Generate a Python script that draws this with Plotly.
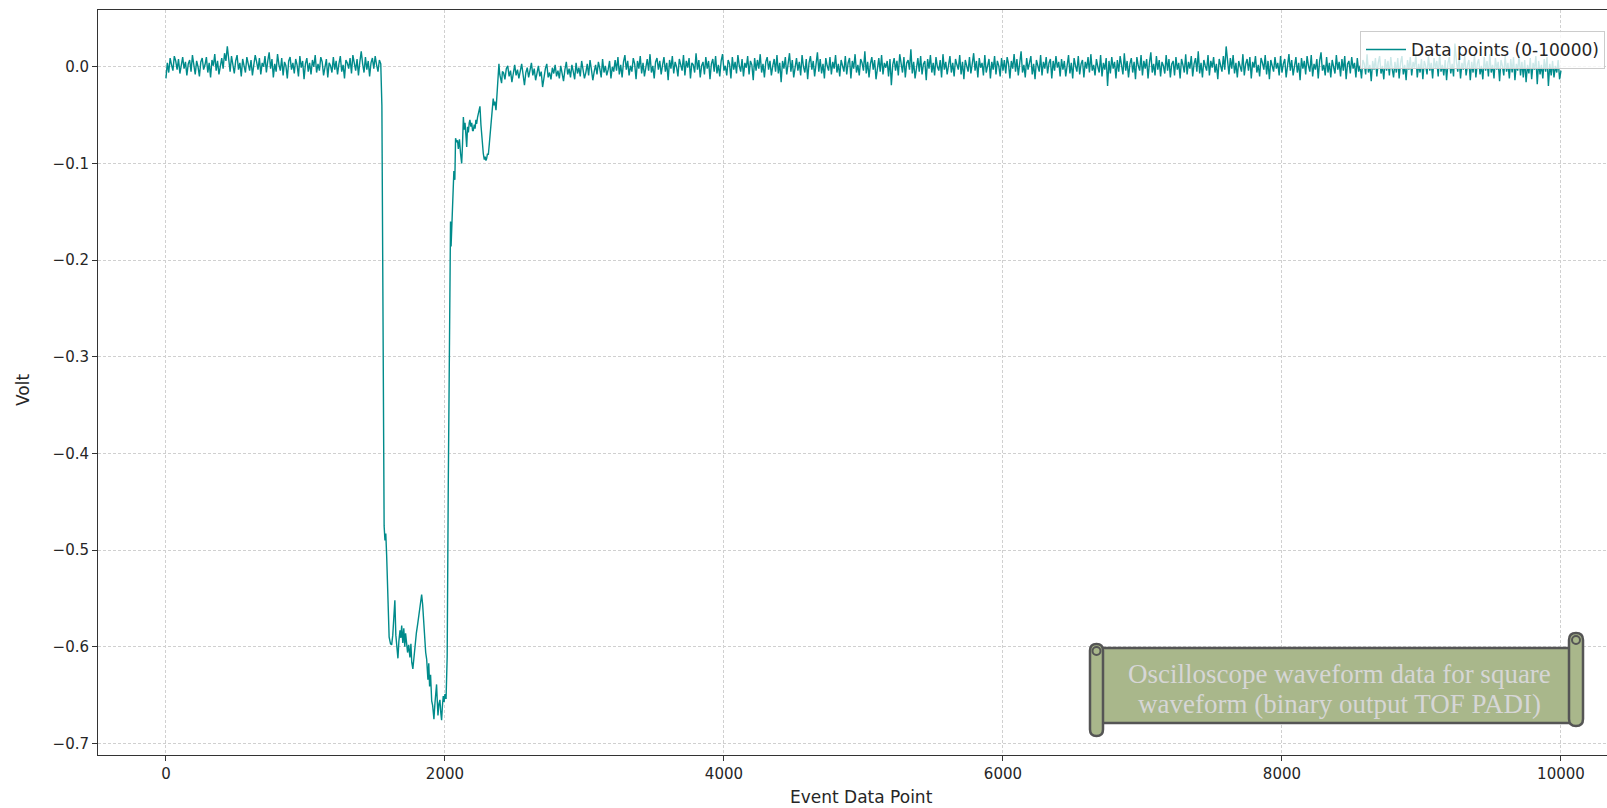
import plotly.graph_objects as go

# ---------------- data (volts) ----------------
# baseline before the pulse, one sample every 10 event points from 0 to 1540
v_pre = [
    -0.012, 0.004, -0.006, 0.009, 0.002, -0.004, 0.011, 0.006, -0.003, 0.008,
    -0.007, 0.001, 0.010, -0.002, 0.005, -0.009, 0.003, 0.007, -0.005, 0.012,
    0.004, -0.008, 0.006, 0.000, -0.010, 0.005, 0.009, -0.003, 0.002, 0.010,
    -0.006, 0.004, -0.011, 0.007, 0.001, 0.013, -0.004, 0.006, -0.008, 0.003,
    0.009, -0.002, 0.014, 0.006, 0.021, 0.008, -0.005, 0.011, 0.002, -0.007,
    0.006, 0.012, -0.003, 0.004, -0.010, 0.008, 0.001, -0.006, 0.010, 0.003,
    -0.004, 0.007, -0.009, 0.002, 0.012, 0.005, -0.003, 0.009, -0.008, 0.004,
    0.000, 0.011, -0.006, 0.006, 0.015, -0.002, 0.008, -0.011, 0.003, -0.005,
    0.013, 0.002, -0.004, 0.009, -0.009, 0.005, 0.001, -0.012, 0.006, 0.010,
    -0.003, 0.004, -0.007, 0.008, 0.002, -0.010, 0.011, -0.001, 0.006, -0.013,
    0.003, 0.009, -0.005, 0.004, -0.008, 0.007, 0.000, 0.012, -0.006, 0.003,
    -0.004, 0.010, 0.005, -0.009, 0.002, 0.008, -0.011, 0.004, 0.001, -0.006,
    0.010, -0.003, 0.006, -0.008, 0.003, 0.011, -0.005, 0.002, -0.012, 0.007,
    0.004, -0.002, 0.009, -0.007, 0.012, 0.001, -0.004, 0.008, -0.009, 0.005,
    0.016, 0.003, -0.006, 0.010, -0.003, 0.006, -0.010, 0.004, 0.009, -0.002,
    0.011, 0.002, -0.005, 0.007, 0.003,
]

# the pulse (event index, volt)
idx_pulse = [
    1548, 1552, 1556, 1560, 1564, 1570, 1576, 1582, 1588, 1594,
    1600, 1610, 1618, 1626, 1634, 1641, 1648, 1656, 1663, 1670,
    1678, 1684, 1690, 1698, 1705, 1712, 1718, 1725, 1732, 1740,
    1749, 1756, 1762, 1770, 1778, 1786, 1795, 1805, 1814, 1822,
    1828, 1833, 1840, 1848, 1855, 1862, 1869, 1874, 1878, 1884,
    1890, 1897, 1905, 1912, 1921, 1928, 1934, 1940, 1945, 1950,
    1957, 1964, 1970, 1976, 1982, 1988, 1994, 2000, 2008, 2016,
    2024, 2032, 2040, 2044, 2048, 2056, 2064, 2071, 2076, 2084,
    2090, 2096, 2104, 2112, 2120, 2126, 2132, 2138, 2144, 2150,
    2156, 2162, 2168, 2174, 2179, 2186, 2192, 2198, 2203, 2210,
    2216, 2222, 2227, 2234, 2240, 2246, 2251, 2258, 2264, 2270,
    2275, 2282, 2288, 2294, 2299, 2305, 2311, 2318, 2324, 2330,
    2335, 2340, 2346, 2352, 2358, 2366, 2370, 2375, 2381, 2387,
    2393, 2400, 2406, 2412,
]
v_pulse = [
    -0.040, -0.200, -0.330, -0.430, -0.475, -0.490, -0.483, -0.505, -0.530, -0.570,
    -0.590, -0.597, -0.598, -0.588, -0.572, -0.552, -0.588, -0.603, -0.612, -0.594,
    -0.583, -0.591, -0.578, -0.596, -0.581, -0.600, -0.586, -0.596, -0.606, -0.598,
    -0.611, -0.597, -0.616, -0.623, -0.609, -0.598, -0.586, -0.576, -0.566, -0.558,
    -0.549, -0.546, -0.556, -0.576, -0.592, -0.606, -0.613, -0.626, -0.634, -0.617,
    -0.641, -0.629, -0.656, -0.661, -0.675, -0.659, -0.644, -0.639, -0.656, -0.671,
    -0.659, -0.655, -0.668, -0.676, -0.661, -0.651, -0.657, -0.649, -0.654, -0.610,
    -0.430, -0.250, -0.160, -0.186, -0.168, -0.148, -0.108, -0.117, -0.074, -0.078,
    -0.076, -0.085, -0.075, -0.090, -0.100, -0.080, -0.052, -0.065, -0.058, -0.070,
    -0.083, -0.062, -0.068, -0.058, -0.055, -0.062, -0.058, -0.066, -0.066, -0.060,
    -0.064, -0.055, -0.059, -0.052, -0.048, -0.044, -0.041, -0.060, -0.075, -0.085,
    -0.090, -0.096, -0.093, -0.097, -0.095, -0.090, -0.091, -0.080, -0.070, -0.060,
    -0.055, -0.042, -0.033, -0.040, -0.036, -0.045, -0.035, -0.024, -0.012, 0.003,
    -0.008, -0.012, -0.017, -0.005,
]

# baseline after the pulse, one sample every 10 event points from 2420 to 10000
v_post = [
    -0.006, -0.013, -0.002, 0.001, -0.010, -0.004, -0.016, -0.007, 0.002, -0.009,
    -0.003, -0.012, -0.005, 0.003, -0.008, -0.019, -0.006, -0.001, -0.011, -0.004,
    0.004, -0.009, -0.002, -0.014, -0.006, 0.001, -0.010, -0.005, -0.021, -0.008,
    -0.002, 0.003, -0.011, -0.006, -0.013, -0.001, -0.007, 0.002, -0.010, -0.004,
    -0.012, 0.001, -0.006, -0.015, -0.003, 0.005, -0.008, -0.002, -0.011, 0.002,
    -0.005, -0.013, 0.004, -0.007, -0.001, -0.010, 0.006, -0.004, -0.012, -0.006,
    0.003, -0.009, 0.007, -0.003, -0.014, -0.005, 0.002, -0.008, 0.005, -0.002,
    -0.011, 0.008, -0.006, 0.001, -0.009, -0.003, 0.006, -0.012, 0.000, -0.005,
    0.007, -0.004, 0.010, -0.008, 0.002, -0.011, 0.005, 0.012, -0.003, 0.006,
    -0.009, 0.001, -0.005, 0.009, 0.003, -0.013, 0.006, -0.002, 0.011, -0.007,
    0.004, -0.010, 0.002, 0.008, -0.004, 0.013, -0.006, 0.001, -0.012, 0.005,
    0.009, -0.003, 0.006, -0.008, 0.002, 0.010, -0.005, 0.004, -0.014, 0.007,
    -0.002, 0.011, -0.007, 0.005, 0.000, -0.010, 0.008, 0.003, -0.004, 0.012,
    -0.009, 0.006, -0.001, 0.009, -0.012, 0.004, 0.002, -0.006, 0.014, -0.003,
    0.007, -0.011, 0.001, 0.005, -0.008, 0.010, -0.002, 0.006, -0.013, 0.003,
    0.008, -0.005, 0.011, -0.007, 0.002, -0.010, 0.006, 0.013, -0.004, 0.001,
    -0.009, 0.007, 0.003, -0.012, 0.010, -0.003, 0.005, -0.007, 0.012, 0.001,
    -0.005, 0.008, -0.010, 0.004, -0.001, 0.011, -0.008, 0.006, 0.002, -0.014,
    0.009, -0.004, 0.007, -0.002, 0.013, -0.006, 0.003, -0.011, 0.005, 0.010,
    -0.003, 0.006, -0.009, 0.001, 0.008, -0.005, 0.012, -0.007, 0.004, -0.016,
    0.006, -0.002, 0.010, -0.008, 0.003, 0.014, -0.005, 0.007, -0.011, 0.002,
    0.009, -0.004, 0.005, -0.009, 0.012, 0.000, -0.006, 0.008, -0.013, 0.004,
    0.011, -0.003, 0.006, -0.010, 0.002, 0.015, -0.005, 0.008, -0.007, 0.003,
    -0.012, 0.009, 0.001, -0.004, 0.010, -0.008, 0.005, -0.002, 0.012, -0.006,
    0.003, -0.010, 0.007, 0.001, -0.005, 0.011, -0.008, 0.004, 0.009, -0.012,
    0.006, -0.002, 0.013, -0.006, 0.002, -0.009, 0.008, 0.004, -0.004, 0.016,
    -0.007, 0.005, -0.011, 0.003, 0.010, -0.003, 0.007, -0.013, 0.001, 0.009,
    -0.005, 0.012, -0.008, 0.004, -0.001, 0.006, -0.010, 0.008, -0.019, 0.002,
    0.009, -0.004, 0.006, -0.009, 0.013, 0.002, -0.006, 0.010, -0.011, 0.004,
    0.007, -0.003, 0.018, -0.007, 0.005, -0.012, 0.001, 0.009, -0.005, 0.011,
    -0.008, 0.003, 0.006, -0.014, 0.008, -0.002, 0.012, -0.006, 0.004, -0.009,
    0.010, 0.000, -0.004, 0.007, -0.011, 0.013, -0.003, 0.005, -0.008, 0.002,
    0.011, -0.006, 0.004, -0.010, 0.008, 0.002, -0.003, 0.012, -0.008, 0.005,
    -0.013, 0.007, 0.001, -0.005, 0.010, -0.007, 0.003, 0.014, -0.004, 0.006,
    -0.011, 0.009, -0.001, 0.004, -0.009, 0.012, -0.006, 0.002, 0.008, -0.012,
    0.005, -0.003, 0.011, -0.008, 0.006, 0.001, -0.010, 0.009, -0.004, 0.007,
    -0.007, 0.010, 0.003, -0.012, 0.006, -0.002, 0.013, -0.005, 0.008, -0.009,
    0.004, 0.016, -0.006, 0.002, -0.011, 0.009, -0.003, 0.006, 0.011, -0.008,
    0.003, -0.013, 0.007, 0.001, -0.005, 0.012, -0.009, 0.005, -0.002, 0.010,
    -0.007, 0.004, 0.008, -0.012, 0.006, -0.004, 0.011, -0.001, 0.005, -0.010,
    0.008, -0.003, 0.006, -0.010, 0.002, 0.012, -0.007, 0.004, -0.012, 0.009,
    0.001, -0.005, 0.011, -0.008, 0.003, 0.007, -0.011, 0.005, -0.002, 0.010,
    -0.006, 0.013, -0.004, 0.002, -0.009, 0.008, 0.000, -0.006, 0.012, -0.010,
    0.004, -0.003, 0.009, -0.020, 0.006, -0.007, 0.010, -0.002, 0.005, -0.012,
    0.007, -0.005, 0.011, 0.002, -0.008, 0.014, -0.004, 0.006, -0.011, 0.003,
    0.009, -0.006, 0.005, -0.013, 0.010, 0.001, -0.004, 0.012, -0.009, 0.006,
    -0.002, 0.008, -0.012, 0.004, 0.015, -0.006, 0.003, -0.009, 0.011, -0.003,
    0.007, -0.010, 0.005, 0.001, -0.007, 0.012, -0.004, 0.008, -0.011, 0.003,
    0.006, -0.009, 0.010, -0.003, 0.004, -0.012, 0.008, 0.002, -0.006, 0.013,
    -0.008, 0.005, -0.002, 0.011, -0.010, 0.003, 0.009, -0.005, 0.016, -0.007,
    0.004, -0.011, 0.007, 0.001, -0.004, 0.012, -0.009, 0.006, -0.001, 0.010,
    -0.006, 0.003, -0.013, 0.008, 0.002, -0.005, 0.011, -0.003, 0.021, 0.006,
    -0.008, 0.009, -0.002, 0.012, -0.007, 0.004, -0.011, 0.006, 0.001, -0.005,
    0.013, -0.009, 0.003, 0.008, -0.004, 0.010, -0.012, 0.005, -0.001, 0.011,
    -0.006, 0.002, -0.010, 0.009, 0.004, -0.003, 0.012, -0.008, 0.006, -0.013,
    0.007, 0.001, -0.005, 0.010, -0.002, 0.004, -0.009, 0.011, -0.006, 0.003,
    0.008, -0.011, 0.005, 0.013, -0.004, 0.007, -0.009, 0.002, 0.010, -0.006,
    0.004, -0.014, 0.009, -0.002, 0.006, -0.008, 0.011, 0.001, -0.005, 0.012,
    -0.010, 0.003, -0.003, 0.008, -0.012, 0.006, 0.015, -0.004, 0.002, -0.009,
    0.010, -0.006, 0.004, -0.011, 0.007, 0.000, -0.007, 0.012, -0.003, 0.005,
    -0.010, 0.008, -0.004, 0.011, -0.013, 0.003, 0.006, -0.007, 0.010, -0.002,
    0.004, -0.011, 0.009, -0.005, 0.001, -0.012, 0.007, 0.003, -0.008, 0.013,
    -0.006, 0.002, -0.015, 0.006, -0.003, 0.009, -0.010, 0.004, 0.011, -0.007,
    0.001, -0.013, 0.008, -0.004, 0.006, -0.009, 0.010, -0.002, -0.011, 0.005,
    -0.006, 0.009, -0.012, 0.004, 0.011, -0.008, 0.002, -0.014, 0.007, -0.003,
    0.010, -0.009, 0.005, -0.001, 0.012, -0.011, 0.003, -0.006, 0.008, -0.013,
    0.006, 0.001, -0.008, 0.011, -0.004, 0.004, -0.012, 0.009, -0.002, 0.006,
    -0.010, 0.013, -0.005, 0.002, -0.009, 0.007, -0.014, 0.004, 0.010, -0.007,
    0.003, -0.010, 0.024, 0.006, -0.005, 0.009, -0.012, 0.004, -0.003, 0.011,
    -0.009, 0.002, 0.007, -0.014, 0.005, -0.006, 0.012, -0.011, 0.003, 0.008,
    -0.008, 0.001, -0.013, 0.010, -0.004, 0.006, -0.010, 0.013, -0.006, 0.002,
    -0.012, 0.009, -0.003, 0.005, -0.015, 0.007, 0.001, -0.009, 0.011, -0.005,
    0.004, -0.012, 0.008, -0.006, 0.010, -0.014, 0.003, -0.004, 0.012, -0.009,
    0.005, -0.011, 0.007, -0.016, 0.002, -0.007, 0.009, -0.013, 0.004, -0.003,
    0.011, -0.018, 0.006, -0.008, 0.002, -0.012, 0.008, -0.005, 0.010, -0.020,
    0.003, -0.009, 0.006, -0.011, 0.001, -0.006, 0.007, -0.013, -0.004,
]

x_tick_vals = [0, 2000, 4000, 6000, 8000, 10000]
x_tick_text = ["0", "2000", "4000", "6000", "8000", "10000"]
y_tick_vals = [0.0, -0.1, -0.2, -0.3, -0.4, -0.5, -0.6, -0.7]
y_tick_text = ["0.0", "\u22120.1", "\u22120.2", "\u22120.3", "\u22120.4", "\u22120.5", "\u22120.6", "\u22120.7"]

series_name = "Data points (0-10000)"
note_lines = ["Oscilloscope waveform data for square", "waveform (binary output TOF PADI)"]

# ---------------- assemble series ----------------
idx_pre = [10 * i for i in range(len(v_pre))]
idx_post = [2420 + 10 * i for i in range(len(v_post))]
event_index = idx_pre + idx_pulse + idx_post
volt = v_pre + v_pulse + v_post

# ---------------- layout geometry (pixels) ----------------
W, H = 1607, 808
L, R, T, B = 98, 1607, 10, 755


def px(xp):
    return (xp - L) / (R - L)


def py(yp):
    return (B - yp) / (B - T)


teal = "#008b8b"
txt = "#262626"
fig = go.Figure()
fig.add_trace(go.Scatter(
    x=event_index, y=volt, mode="lines", name=series_name,
    line=dict(color=teal, width=1.4), showlegend=True,
))

grid = dict(showgrid=True, gridcolor="#d0d0d0", gridwidth=0.8, griddash="3px,2px")
fig.update_layout(
    width=W, height=H,
    margin=dict(l=L, r=W - R, t=T, b=H - B),
    plot_bgcolor="white", paper_bgcolor="white",
    font=dict(family="DejaVu Sans", size=15, color=txt),
    xaxis=dict(range=[-487, 10330], tickvals=x_tick_vals, ticktext=x_tick_text,
               ticks="outside", ticklen=5, tickwidth=1, tickcolor="#333",
               tickfont=dict(size=15, color=txt),
               showline=True, linecolor="#333", linewidth=1, mirror=True,
               zeroline=False, **grid),
    yaxis=dict(range=[-0.712, 0.0587], tickvals=y_tick_vals, ticktext=y_tick_text,
               ticks="outside", ticklen=5, tickwidth=1, tickcolor="#333",
               tickfont=dict(size=15, color=txt),
               showline=True, linecolor="#333", linewidth=1,
               zeroline=False, **grid),
    legend=dict(x=px(1605), y=py(31), xanchor="right", yanchor="top",
                bgcolor="rgba(255,255,255,0.8)", bordercolor="#cccccc", borderwidth=1,
                itemwidth=40, font=dict(size=17, color=txt)),
    showlegend=True,
)

# axis titles
fig.add_annotation(text="Event Data Point", xref="paper", yref="paper",
                   x=px(861), y=py(797), xanchor="center", yanchor="middle",
                   showarrow=False, font=dict(size=17, color=txt))
fig.add_annotation(text="Volt", xref="paper", yref="paper",
                   x=px(23), y=py(390), xanchor="center", yanchor="middle",
                   textangle=-90, showarrow=False, font=dict(size=17, color=txt))

# scroll-shaped note box
fill = "#a9b78b"
edge = "#555555"
lw = 2.5


def pt(x, y):
    return f"{px(x):.5f},{py(y):.5f}"


def capsule(x0, y0, x1, y1):
    r = (x1 - x0) / 2.0
    xm = (x0 + x1) / 2.0
    path = (f"M {pt(x0, y0 + r)} L {pt(x0, y1 - r)} Q {pt(x0, y1)} {pt(xm, y1)} "
            f"Q {pt(x1, y1)} {pt(x1, y1 - r)} L {pt(x1, y0 + r)} "
            f"Q {pt(x1, y0)} {pt(xm, y0)} Q {pt(x0, y0)} {pt(x0, y0 + r)} Z")
    fig.add_shape(type="path", xref="paper", yref="paper", path=path,
                  fillcolor=fill, line=dict(color=edge, width=lw), layer="above")


def circle(cx, cy, r):
    fig.add_shape(type="circle", xref="paper", yref="paper",
                  x0=px(cx - r), y0=py(cy + r), x1=px(cx + r), y1=py(cy - r),
                  fillcolor=fill, line=dict(color=edge, width=2), layer="above")


fig.add_shape(type="rect", xref="paper", yref="paper",
              x0=px(1098), y0=py(723), x1=px(1574), y1=py(648),
              fillcolor=fill, line=dict(color=edge, width=lw), layer="above")
capsule(1090, 644, 1103, 736)      # left roll
capsule(1569, 633, 1583, 726)      # right roll
circle(1096.5, 651, 4)
circle(1576, 640, 4)

for line_text, ypix in zip(note_lines, [674, 704]):
    fig.add_annotation(text=line_text, xref="paper", yref="paper",
                       x=px(1339), y=py(ypix), xanchor="center", yanchor="middle",
                       showarrow=False, align="center",
                       font=dict(family="Liberation Serif", size=27, color="#d6d6d6"))

fig.write_html("out.html", config={"displayModeBar": False},
               post_script="document.body.style.margin='0';document.body.style.padding='0';"
                           "document.body.style.overflow='hidden';")
